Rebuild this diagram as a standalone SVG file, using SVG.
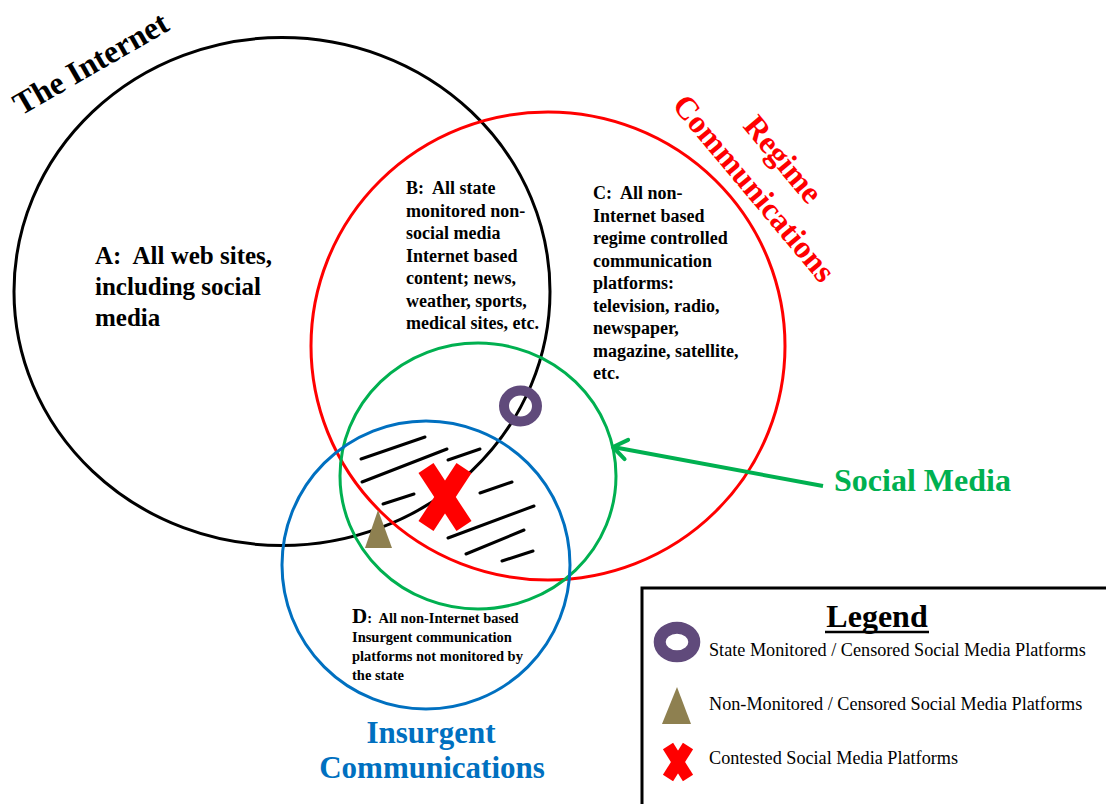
<svg xmlns="http://www.w3.org/2000/svg" width="1106" height="804" viewBox="0 0 1106 804">
<style>
.ring{fill:none;stroke-width:3}
.lbl{font-family:"Liberation Serif","Times New Roman",serif;font-weight:bold}
.body{font-family:"Liberation Serif","Times New Roman",serif;font-weight:bold;font-size:18px;fill:#000}
.leg{font-family:"Liberation Serif","Times New Roman",serif;font-size:18.2px;fill:#000}
.hatch{stroke:#000;stroke-width:3;stroke-linecap:round}
.xmark{stroke:#FF0000;stroke-linecap:butt}
.purple{fill:none;stroke:#604A7B}
.olive{fill:#8E8050}
</style>
<defs>
<marker id="openArrow" markerUnits="userSpaceOnUse" markerWidth="30" markerHeight="30" viewBox="-20 -15 30 30" refX="0" refY="0" orient="auto" overflow="visible">
<path d="M-13.6,-9.8 L0,0 L-13.6,9.8" fill="none" stroke="#00B050" stroke-width="4" stroke-linejoin="round" stroke-linecap="round"/>
</marker>
</defs>
<rect x="0" y="0" width="1106" height="804" fill="#fff"/>

<g id="internet">
<ellipse class="ring" cx="282" cy="291.5" rx="268" ry="254" stroke="#000"/>
<text class="lbl" font-size="32" fill="#000" transform="translate(21,116) rotate(-30)">The Internet</text>
<text class="lbl" font-size="25" fill="#000"><tspan x="95" y="264">A:&#160; All web sites,</tspan><tspan x="95" y="295">including social</tspan><tspan x="95" y="326">media</tspan></text>
<text class="body"><tspan x="406" y="194">B:&#160; All state</tspan><tspan x="406" y="216.5">monitored non-</tspan><tspan x="406" y="239">social media</tspan><tspan x="406" y="261.5">Internet based</tspan><tspan x="406" y="284">content; news,</tspan><tspan x="406" y="306.5">weather, sports,</tspan><tspan x="406" y="329">medical sites, etc.</tspan></text>
</g>

<g id="regime">
<ellipse class="ring" cx="548" cy="346" rx="237" ry="234" stroke="#FF0000"/>
<text class="lbl" font-size="32" fill="#FF0000" text-anchor="middle" transform="translate(775,166) rotate(50)">Regime</text>
<text class="lbl" font-size="32" fill="#FF0000" text-anchor="middle" transform="translate(746,195) rotate(50)">Communications</text>
<text class="body"><tspan x="593" y="199">C:&#160; All non-</tspan><tspan x="593" y="221.5">Internet based</tspan><tspan x="593" y="244">regime controlled</tspan><tspan x="593" y="266.5">communication</tspan><tspan x="593" y="289">platforms:</tspan><tspan x="593" y="311.5">television, radio,</tspan><tspan x="593" y="334">newspaper,</tspan><tspan x="593" y="356.5">magazine, satellite,</tspan><tspan x="593" y="379">etc.</tspan></text>
</g>

<g id="social-media">
<ellipse class="ring" cx="478" cy="476" rx="138" ry="133" stroke="#00B050"/>
<text class="lbl" font-size="32" fill="#00B050" x="834" y="491">Social Media</text>
</g>

<g id="insurgent">
<circle class="ring" cx="426" cy="565" r="144" stroke="#0070C0"/>
<text class="lbl" font-size="31" fill="#0070C0" text-anchor="middle" x="431" y="743">Insurgent</text>
<text class="lbl" font-size="31" fill="#0070C0" text-anchor="middle" x="432" y="778">Communications</text>
<text class="lbl" fill="#000"><tspan x="352" y="623" font-size="21">D</tspan><tspan font-size="14.5">:&#160; All non-Internet based</tspan><tspan x="352" y="642" font-size="14.5">Insurgent communication</tspan><tspan x="352" y="661" font-size="14.5">platforms not monitored by</tspan><tspan x="352" y="680" font-size="14.5">the state</tspan></text>
</g>

<g id="contested-zone">
<line class="hatch" x1="361" y1="459" x2="425" y2="437"/>
<line class="hatch" x1="362" y1="482" x2="447" y2="449"/>
<line class="hatch" x1="448" y1="460" x2="480" y2="449"/>
<line class="hatch" x1="383" y1="504" x2="414" y2="494"/>
<line class="hatch" x1="480" y1="493" x2="512" y2="482"/>
<line class="hatch" x1="448" y1="538" x2="534" y2="506"/>
<line class="hatch" x1="466" y1="554" x2="524" y2="530"/>
<line class="hatch" x1="502" y1="561" x2="533" y2="551"/>
<ellipse class="purple" cx="520.5" cy="406" rx="16.5" ry="15.5" stroke-width="10"/>
<polygon class="olive" points="378,510 392,548 365,548"/>
<line class="xmark" x1="426" y1="468" x2="464" y2="526" stroke-width="18"/>
<line class="xmark" x1="464" y1="468" x2="426" y2="526" stroke-width="18"/>
</g>

<g id="connectors">
<line x1="823" y1="486" x2="613" y2="447" stroke="#00B050" stroke-width="4" marker-end="url(#openArrow)"/>
</g>

<g id="legend">
<rect x="642" y="588" width="480" height="230" fill="#fff" stroke="#000" stroke-width="3"/>
<text class="lbl" font-size="32" fill="#000" x="877" y="627" text-anchor="middle">Legend</text>
<line x1="825" y1="632" x2="929" y2="632" stroke="#000" stroke-width="2.5"/>
<ellipse class="purple" cx="677" cy="642" rx="17.3" ry="14.3" stroke-width="12"/>
<text class="leg" x="709" y="656">State Monitored / Censored Social Media Platforms</text>
<polygon class="olive" points="677,687 691,724 662,724"/>
<text class="leg" x="709" y="710">Non-Monitored / Censored Social Media Platforms</text>
<line class="xmark" x1="668" y1="746" x2="688" y2="778" stroke-width="12"/>
<line class="xmark" x1="688" y1="746" x2="668" y2="778" stroke-width="12"/>
<text class="leg" x="709" y="764">Contested Social Media Platforms</text>
</g>
</svg>
